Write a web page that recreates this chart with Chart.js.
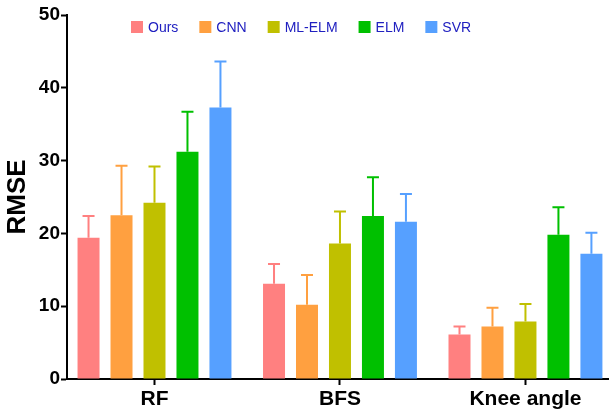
<!DOCTYPE html>
<html>
<head>
<meta charset="utf-8">
<script src="https://cdn.jsdelivr.net/npm/chart.js@4.4.0/dist/chart.umd.min.js"></script>
<style>
html,body{margin:0;padding:0;background:#fff;overflow:hidden;}
#wrap{width:611px;height:413px;position:relative;}
</style>
</head>
<body>
<div id="wrap"><canvas id="c" width="611" height="413"></canvas></div>
<script>
const categories = ['RF', 'BFS', 'Knee angle'];
const seriesNames = ['Ours', 'CNN', 'ML-ELM', 'ELM', 'SVR'];
const oursValues  = [19.4, 13.1, 6.1];
const oursErrors  = [3.0, 2.7, 1.1];
const cnnValues   = [22.5, 10.2, 7.2];
const cnnErrors   = [6.8, 4.1, 2.6];
const mlelmValues = [24.2, 18.6, 7.9];
const mlelmErrors = [5.0, 4.4, 2.4];
const elmValues   = [31.2, 22.4, 19.8];
const elmErrors   = [5.5, 5.3, 3.8];
const svrValues   = [37.3, 21.6, 17.2];
const svrErrors   = [6.3, 3.8, 2.9];
const yTicks = [0, 10, 20, 30, 40, 50];

const colors = ['#FF8080', '#FFA040', '#C0C000', '#00C000', '#56A0FF'];
const allValues = [oursValues, cnnValues, mlelmValues, elmValues, svrValues];
const allErrors = [oursErrors, cnnErrors, mlelmErrors, elmErrors, svrErrors];

const datasets = seriesNames.map((name, s) => ({
  label: name,
  data: allValues[s].map((v, i) => ({x: i, y: v})),
  errors: allErrors[s],
  backgroundColor: colors[s],
  borderWidth: 0,
  barPercentage: 0.667,
  categoryPercentage: 0.889
}));

const errorBars = {
  id: 'errorBars',
  afterDatasetsDraw(chart) {
    const ctx = chart.ctx;
    const y = chart.scales.y;
    chart.data.datasets.forEach((ds, di) => {
      const meta = chart.getDatasetMeta(di);
      meta.data.forEach((el, i) => {
        const top = y.getPixelForValue(ds.data[i].y + ds.errors[i]);
        ctx.save();
        ctx.strokeStyle = ds.backgroundColor;
        ctx.lineWidth = 2;
        ctx.beginPath();
        ctx.moveTo(el.x, el.y);
        ctx.lineTo(el.x, top);
        ctx.moveTo(el.x - 6, top);
        ctx.lineTo(el.x + 6, top);
        ctx.stroke();
        ctx.restore();
      });
    });
  }
};

const legendPlugin = {
  id: 'customLegend',
  afterDraw(chart) {
    const ctx = chart.ctx;
    ctx.save();
    ctx.font = '14px "Liberation Sans", Arial, sans-serif';
    ctx.textBaseline = 'middle';
    let x = 131;
    const yc = 27;
    chart.data.datasets.forEach(ds => {
      ctx.fillStyle = ds.backgroundColor;
      ctx.fillRect(x, yc - 6, 12, 12);
      ctx.fillStyle = '#2020C0';
      ctx.fillText(ds.label, x + 17, yc + 1);
      x += 17 + ctx.measureText(ds.label).width + 21;
    });
    ctx.restore();
  }
};

new Chart(document.getElementById('c'), {
  type: 'bar',
  data: { datasets },
  plugins: [errorBars, legendPlugin],
  options: {
    responsive: false,
    animation: false,
    layout: { padding: { left: 0, right: 3, top: 15, bottom: 0 } },
    plugins: { legend: { display: false }, tooltip: { enabled: false } },
    scales: {
      x: {
        type: 'linear',
        offset: false,
        min: -0.4717,
        max: 2.445,
        afterBuildTicks(scale) { scale.ticks = categories.map((c, i) => ({value: i})); },
        afterFit(scale) { scale.height = 34; },
        ticks: {
          callback: (v) => categories[v],
          color: '#000',
          font: { family: '"Liberation Sans", Arial, sans-serif', size: 21, weight: 'bold' },
          padding: 2,
          maxRotation: 0,
          autoSkip: false
        },
        grid: { offset: false, drawOnChartArea: false, drawTicks: true, tickLength: 6, tickWidth: 2, tickColor: '#000' },
        border: { display: true, color: '#000', width: 2 }
      },
      y: {
        min: 0,
        max: 50,
        afterBuildTicks(scale) { scale.ticks = yTicks.map(v => ({value: v})); },
        afterFit(scale) { scale.width = 67; },
        ticks: {
          color: '#000',
          font: { family: '"Liberation Sans", Arial, sans-serif', size: 19, weight: 'bold' },
          padding: 1
        },
        grid: { drawOnChartArea: false, drawTicks: true, tickLength: 6, tickWidth: 2, tickColor: '#000' },
        border: { display: true, color: '#000', width: 2 },
        title: {
          display: true,
          text: 'RMSE',
          color: '#000',
          font: { family: '"Liberation Sans", Arial, sans-serif', size: 26, weight: 'bold' },
          padding: { top: 2, bottom: 0 }
        }
      }
    }
  }
});
</script>
</body>
</html>
